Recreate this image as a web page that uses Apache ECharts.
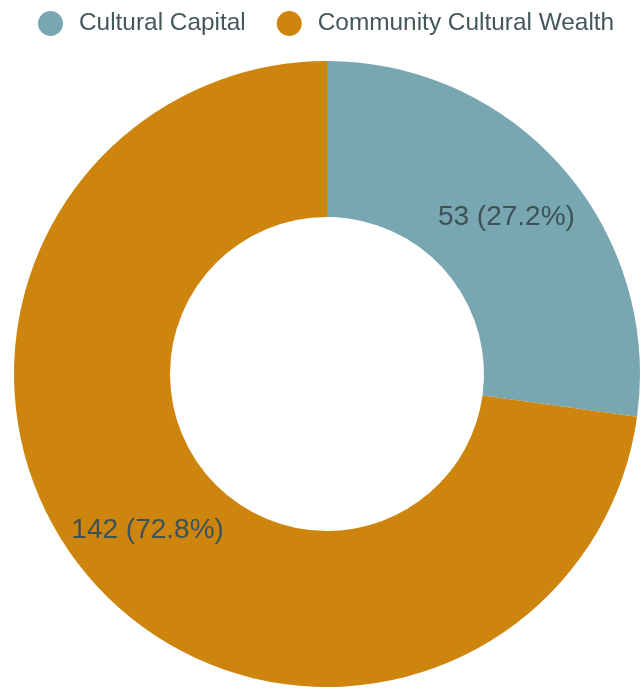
<!DOCTYPE html>
<html>
<head>
<meta charset="utf-8">
<script src="https://cdn.jsdelivr.net/npm/echarts@6/dist/echarts.min.js"></script>
<style>html,body{margin:0;padding:0;background:#fff}#c{width:642px;height:690px}</style>
</head>
<body>
<div id="c"></div>
<script>
const categories = ["Cultural Capital", "Community Cultural Wealth"];
const values = [53, 142];
const colors = ["#78a6b1", "#cd850d"];

const chart = echarts.init(document.getElementById('c'), null, {renderer: 'canvas'});
const total = values.reduce((a, b) => a + b, 0);
chart.setOption({
  animation: false,
  color: colors,
  legend: {
    data: categories,
    left: 33,
    top: 6,
    icon: 'circle',
    itemWidth: 47,
    itemHeight: 25,
    itemGap: 31,
    textStyle: {fontFamily: 'Liberation Sans, Arial, sans-serif', fontSize: 24.4, color: '#44575b'}
  },
  series: [{
    type: 'pie',
    center: [327, 374],
    radius: [157, 313],
    startAngle: 90,
    clockwise: true,
    avoidLabelOverlap: false,
    label: {
      show: true,
      position: 'inside',
      fontFamily: 'Liberation Sans, Arial, sans-serif',
      fontSize: 28,
      color: '#3d5156',
      formatter: p => p.value + ' (' + (p.value / total * 100).toFixed(1) + '%)'
    },
    labelLine: {show: false},
    itemStyle: {borderWidth: 0},
    emphasis: {disabled: true},
    data: categories.map((c, i) => ({name: c, value: values[i]}))
  }]
});
</script>
</body>
</html>
